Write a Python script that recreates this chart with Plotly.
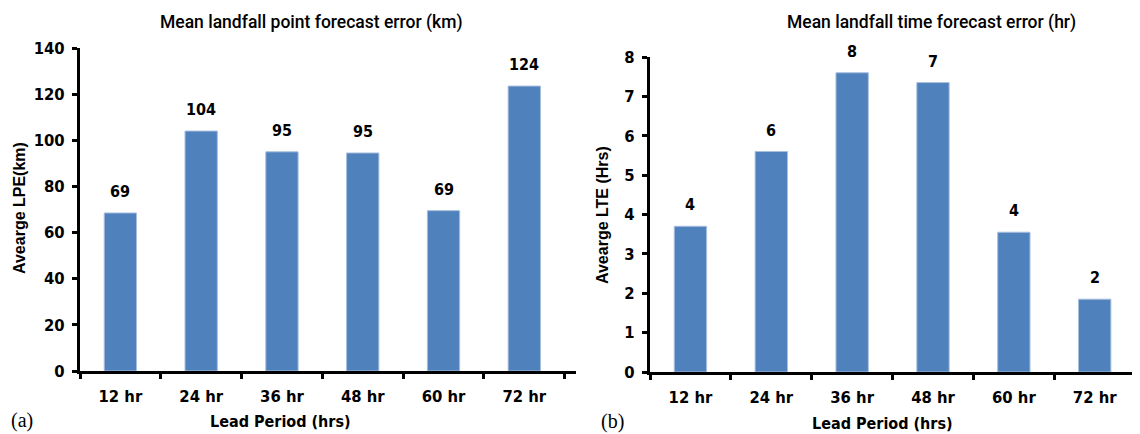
import plotly.graph_objects as go

categories = ["12 hr", "24 hr", "36 hr", "48 hr", "60 hr", "72 hr"]
lpe_values = [68.5, 104, 95, 94.5, 69.5, 123.5]
lpe_labels = ["69", "104", "95", "95", "69", "124"]
lte_values = [3.7, 5.6, 7.6, 7.35, 3.55, 1.85]
lte_labels = ["4", "6", "8", "7", "4", "2"]
lpe_ticks = [0, 20, 40, 60, 80, 100, 120, 140]
lte_ticks = [0, 1, 2, 3, 4, 5, 6, 7, 8]

# page body has an 8px margin: lay out in screen pixels and convert
OX, OY = 8, 8
W, H = 1140 - OX, 434 - OY
NARROW = "DejaVu Sans Condensed, Roboto, sans-serif"
TITLEF = "Roboto, sans-serif"
BAR = "#4F81BD"


def px(X):
    return (X - OX) / W


def py(Y):
    return 1 - (Y - OY) / H


fig = go.Figure()
fig.add_trace(go.Bar(x=categories, y=lpe_values, xaxis="x", yaxis="y",
                     marker=dict(color=BAR, line=dict(color="#A7BFDE", width=1)),
                     width=0.4, showlegend=False))
fig.add_trace(go.Bar(x=categories, y=lte_values, xaxis="x2", yaxis="y2",
                     marker=dict(color=BAR, line=dict(color="#A7BFDE", width=1)),
                     width=0.4, showlegend=False))

lblfont = dict(family=NARROW, size=16, color="black", weight="bold")
ann = []
for c, v, t in zip(categories, lpe_values, lpe_labels):
    ann.append(dict(x=c, y=v, xref="x", yref="y", text=t, showarrow=False,
                    yanchor="bottom", yshift=10, font=lblfont))
for c, v, t in zip(categories, lte_values, lte_labels):
    ann.append(dict(x=c, y=v, xref="x2", yref="y2", text=t, showarrow=False,
                    yanchor="bottom", yshift=10, font=lblfont))


def P(X, Y):
    return dict(x=px(X), y=py(Y), xref="paper", yref="paper",
                xanchor="center", yanchor="middle", showarrow=False)


ann += [
    dict(**P(311, 22), text="Mean landfall point forecast error (km)",
         font=dict(family=TITLEF, size=17.5, color="black", weight=500)),
    dict(**P(931, 22), text="Mean landfall time forecast error (hr)",
         font=dict(family=TITLEF, size=17.5, color="black", weight=500)),
    dict(**P(280, 421), text="Lead Period (hrs)", font=lblfont),
    dict(**P(882, 423), text="Lead Period (hrs)", font=lblfont),
    dict(**P(19, 208), text="Avearge LPE(km)", textangle=-90,
         font=dict(family="Liberation Sans, Arial, sans-serif", size=16, color="black", weight="bold")),
    dict(**P(602, 215), text="Avearge LTE (Hrs)", textangle=-90,
         font=dict(family="Liberation Sans, Arial, sans-serif", size=16, color="black", weight="bold")),
    dict(**P(22, 420), text="(a)",
         font=dict(family="Liberation Serif, Times New Roman, serif", size=20, color="black")),
    dict(**P(612, 421), text="(b)",
         font=dict(family="Liberation Serif, Times New Roman, serif", size=20, color="black")),
]

tickfont = dict(family=NARROW, size=16.5, color="black", weight="bold")
xcommon = dict(type="category", showline=True, linecolor="black", linewidth=3, ticks="outside",
               tickson="boundaries", ticklen=5, tickwidth=3, tickcolor="black", showgrid=False,
               tickfont=tickfont, ticklabelstandoff=8, zeroline=False, fixedrange=True,
               automargin=False)
ycommon = dict(showline=True, linecolor="black", linewidth=3, ticks="outside", ticklen=5,
               tickwidth=3, tickcolor="black", showgrid=False, zeroline=False, tickfont=tickfont,
               ticklabelstandoff=4, fixedrange=True, automargin=False)

fig.update_layout(
    width=W, height=H, margin=dict(l=0, r=0, t=0, b=0, autoexpand=False),
    paper_bgcolor="white", plot_bgcolor="white",
    xaxis=dict(domain=[px(80), px(576)], range=[-0.5, 5.64], anchor="y", **xcommon),
    yaxis=dict(domain=[py(371), py(48)], range=[0, 140], tickvals=lpe_ticks, anchor="x", **ycommon),
    xaxis2=dict(domain=[px(650), px(1140)], range=[-0.5, 5.56], anchor="y2", **xcommon),
    yaxis2=dict(domain=[py(372), py(57)], range=[0, 8], tickvals=lte_ticks, anchor="x2", **ycommon),
    annotations=ann,
)

fig.write_html("out.html")
